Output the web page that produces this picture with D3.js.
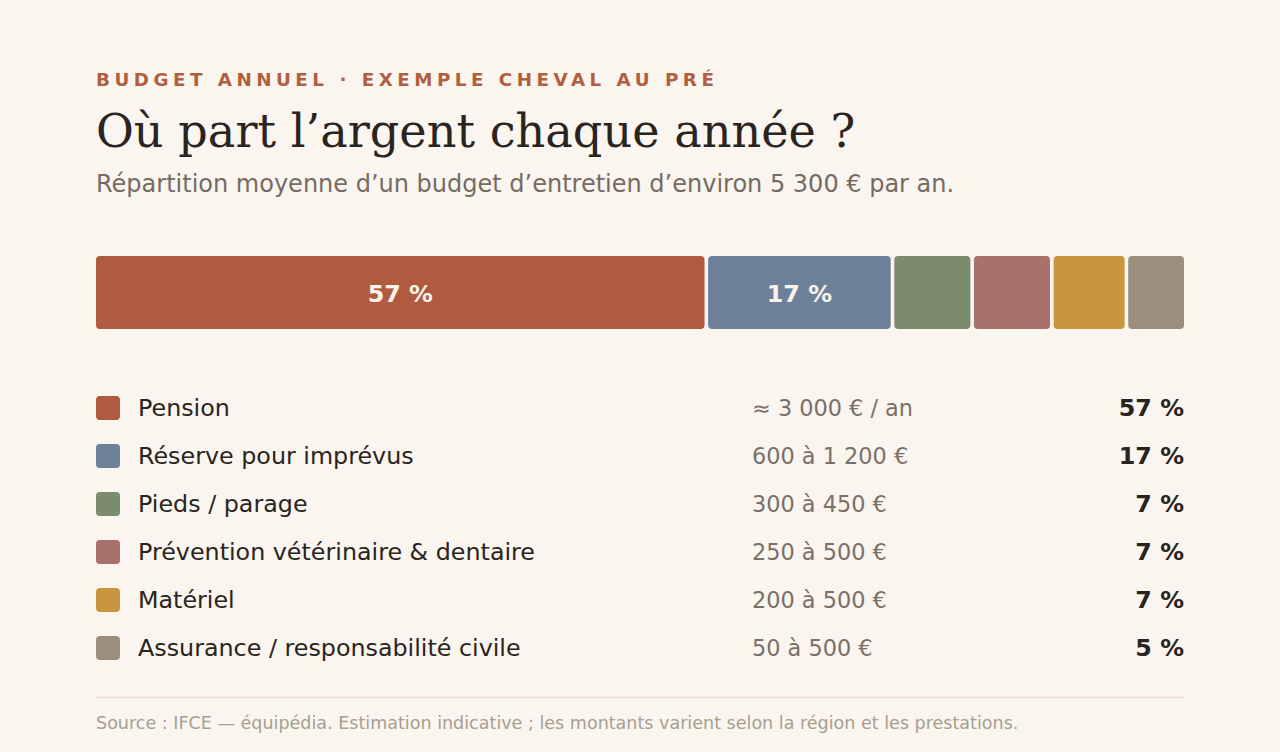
<!DOCTYPE html>
<html>
<head>
<meta charset="utf-8">
<script src="https://cdn.jsdelivr.net/npm/d3@7"></script>
<style>
	html,body{margin:0;padding:0;background:#faf5ef;}
	svg{display:block;}
</style>
</head>
<body>
<div id="chart"></div>
<script>

// budget items (amounts = midpoint of each range, used for segment widths)
const categories=['Pension','Réserve pour imprévus','Pieds / parage','Prévention vétérinaire & dentaire','Matériel','Assurance / responsabilité civile']
const amounts=[3000,900,375,375,350,275]
const percents=[57,17,7,7,7,5]
const ranges=['≈ 3 000 € / an','600 à 1 200 €','300 à 450 €','250 à 500 €','200 à 500 €','50 à 500 €']
const colors=['#b05b3f','#6d8099','#7b8b6e','#a8716a','#c8963e','#9a8f7d']

const width=1280,height=752
const left=96,right=1184
const gap=3.6

const svg=d3.select('#chart').append('svg')
	.attr('width',width)
	.attr('height',height)

svg.append('rect')
	.attr('width',width).attr('height',height)
	.attr('fill','#faf5ef')

// header
svg.append('text')
	.attr('x',left).attr('y',86)
	.attr('font-family','DejaVu Sans')
	.attr('font-weight','bold')
	.attr('font-size',18.3)
	.attr('letter-spacing','4.5px')
	.attr('fill','#b0603f')
	.text('BUDGET ANNUEL · EXEMPLE CHEVAL AU PRÉ')

svg.append('text')
	.attr('x',left).attr('y',147)
	.attr('font-family','DejaVu Serif')
	.attr('font-size',46.2)
	.attr('fill','#2a2420')
	.text('Où part l’argent chaque année ?')

svg.append('text')
	.attr('x',left).attr('y',192)
	.attr('font-family','DejaVu Sans')
	.attr('font-size',24)
	.attr('fill','#756b62')
	.text('Répartition moyenne d’un budget d’entretien d’environ 5 300 € par an.')

// stacked bar
const data=categories.map((c,i)=>({name:c,amount:amounts[i],pct:percents[i],range:ranges[i],color:colors[i]}))
let cum=0
data.forEach(d=>{d.start=cum;cum+=d.amount})

const xScale=d3.scaleLinear()
	.domain([0,cum])
	.range([0,right-left-gap*(data.length-1)])

const barY=256,barH=73

const seg=svg.append('g').selectAll('g')
	.data(data)
	.join('g')
	.attr('transform',(d,i)=>`translate(${left+xScale(d.start)+i*gap},${barY})`)

seg.append('rect')
	.attr('width',d=>xScale(d.amount)-xScale(0))
	.attr('height',barH)
	.attr('rx',4)
	.attr('fill',d=>d.color)

seg.filter(d=>xScale(d.amount)>120)
	.append('text')
	.attr('x',d=>xScale(d.amount)/2)
	.attr('y',barH/2+1)
	.attr('text-anchor','middle')
	.attr('dominant-baseline','central')
	.attr('font-family','DejaVu Sans')
	.attr('font-weight','bold')
	.attr('font-size',23.8)
	.attr('fill','#fbf3ea')
	.text(d=>d.pct+' %')

// legend table
const yScale=d3.scalePoint()
	.domain(categories)
	.range([408,648])

const row=svg.append('g').selectAll('g')
	.data(data)
	.join('g')
	.attr('transform',d=>`translate(0,${yScale(d.name)})`)

row.append('rect')
	.attr('x',left).attr('y',-12)
	.attr('width',24).attr('height',24)
	.attr('rx',4)
	.attr('fill',d=>d.color)

row.append('text')
	.attr('x',138)
	.attr('dominant-baseline','central')
	.attr('font-family','DejaVu Sans')
	.attr('font-size',23.8)
	.attr('fill','#2a2420')
	.text(d=>d.name)

row.append('text')
	.attr('x',752)
	.attr('dominant-baseline','central')
	.attr('font-family','DejaVu Sans')
	.attr('font-size',22.4)
	.attr('fill','#7a7068')
	.text(d=>d.range)

row.append('text')
	.attr('x',right)
	.attr('text-anchor','end')
	.attr('dominant-baseline','central')
	.attr('font-family','DejaVu Sans')
	.attr('font-weight','bold')
	.attr('font-size',23.8)
	.attr('fill','#2a2420')
	.text(d=>d.pct+' %')

// footer
svg.append('line')
	.attr('x1',left).attr('x2',right)
	.attr('y1',697.5).attr('y2',697.5)
	.attr('stroke','#ecdccd')
	.attr('stroke-width',1.5)

svg.append('text')
	.attr('x',left).attr('y',729)
	.attr('font-family','DejaVu Sans')
	.attr('font-size',17.55)
	.attr('fill','#a89e90')
	.text('Source : IFCE — équipédia. Estimation indicative ; les montants varient selon la région et les prestations.')

</script>
</body>
</html>
